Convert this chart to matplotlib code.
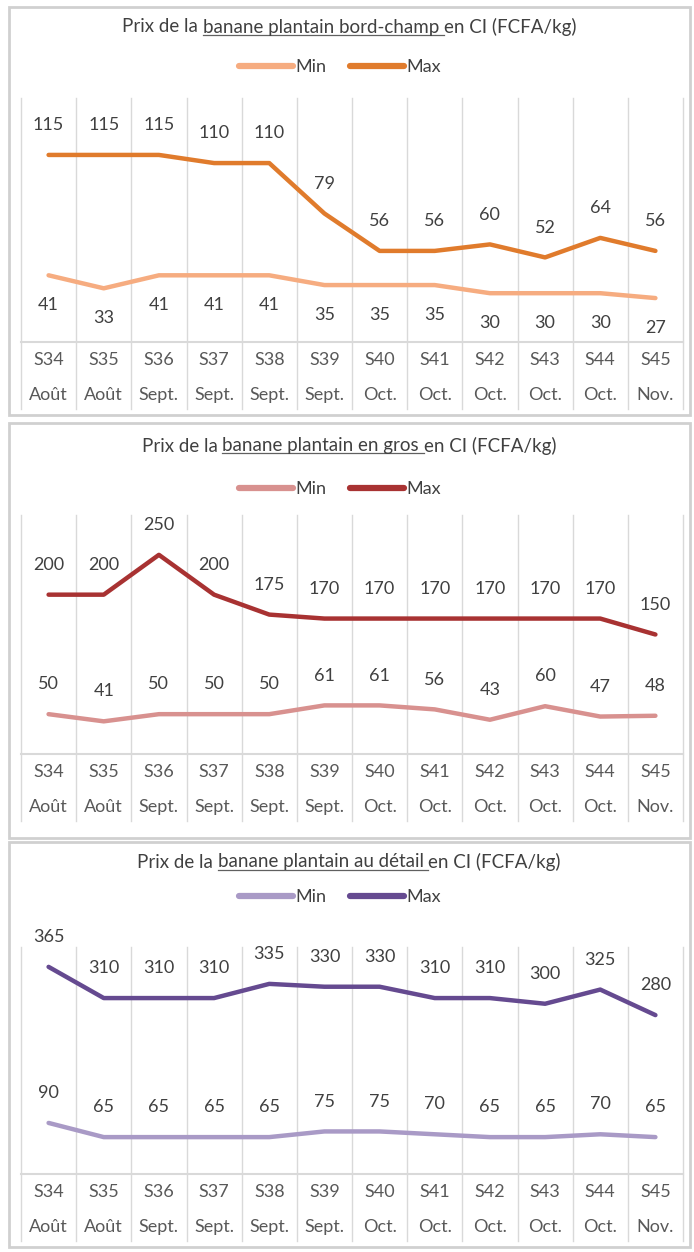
import matplotlib
matplotlib.use("Agg")
import matplotlib.pyplot as plt
from matplotlib.patches import Rectangle
from matplotlib.lines import Line2D

plt.rcParams['font.family'] = ['Lato', 'DejaVu Sans']

semaines = ["S34", "S35", "S36", "S37", "S38", "S39", "S40", "S41", "S42", "S43", "S44", "S45"]
mois = ["Août", "Août", "Sept.", "Sept.", "Sept.", "Sept.", "Oct.", "Oct.", "Oct.", "Oct.", "Oct.", "Nov."]

champ_min = [41, 33, 41, 41, 41, 35, 35, 35, 30, 30, 30, 27]
champ_max = [115, 115, 115, 110, 110, 79, 56, 56, 60, 52, 64, 56]
gros_min = [50, 41, 50, 50, 50, 61, 61, 56, 43, 60, 47, 48]
gros_max = [200, 200, 250, 200, 175, 170, 170, 170, 170, 170, 170, 150]
detail_min = [90, 65, 65, 65, 65, 75, 75, 70, 65, 65, 70, 65]
detail_max = [365, 310, 310, 310, 335, 330, 330, 310, 310, 300, 325, 280]

W, H = 694, 1252
fig = plt.figure(figsize=(W / 100, H / 100), dpi=100)
renderer = fig.canvas.get_renderer()

GRID = "#D9D9D9"
TXT = "#404040"
LBL = "#595959"


def fx(px):
    return px / W


def fy(py):
    return 1 - py / H


def titre(y_px, avant, souligne, apres):
    pieces = [avant, souligne, apres]
    texts = [fig.text(0, fy(y_px), p, fontsize=13.5, color=TXT, ha="left", va="center") for p in pieces]
    widths = [t.get_window_extent(renderer).width for t in texts]
    x_start = (W - sum(widths)) / 2 + 2
    x = x_start
    for t, w in zip(texts, widths):
        t.set_x(fx(x))
        x += w
    # souligner la partie du milieu
    x0 = x_start + widths[0]
    bb = texts[1].get_window_extent(renderer)
    yl = bb.y0 + 1
    fig.add_artist(Line2D([fx(x0), fx(x0 + widths[1])], [yl / H, yl / H], color="#606060", lw=0.9))


def panneau(box, axbox, ymax, mins, maxs, c_min, c_max, titres, y_titre, y_leg, min_below):
    l, t, r, b = box
    fig.add_artist(Rectangle((fx(l), fy(b)), fx(r - l), (b - t) / H, fill=False,
                             edgecolor="#D0D0D0", lw=2, transform=fig.transFigure))
    al, at, ar, ab = axbox
    ax = fig.add_axes([fx(al), fy(ab), fx(ar - al), (ab - at) / H])
    ax.set_xlim(-0.5, 11.5)
    ax.set_ylim(0, ymax)
    ax.axis("off")
    hpx = ab - at
    sep = -67 / hpx
    for xb in [i - 0.5 for i in range(13)]:
        ax.plot([xb, xb], [sep, 1], transform=ax.get_xaxis_transform(), color=GRID, lw=1, clip_on=False)
    ax.plot([-0.5, 11.5], [0, 0], color=GRID, lw=1.5, clip_on=False)

    x = list(range(len(semaines)))
    ax.plot(x, mins, color=c_min, lw=3.2, solid_capstyle="round", solid_joinstyle="round", label="Min")
    ax.plot(x, maxs, color=c_max, lw=3.2, solid_capstyle="round", solid_joinstyle="round", label="Max")

    for i in x:
        ax.annotate(str(maxs[i]), (i, maxs[i]), xytext=(0, 21.5), textcoords="offset points",
                    ha="center", va="center", fontsize=13, color=TXT, annotation_clip=False)
        dy = -21.5 if min_below else 21.5
        ax.annotate(str(mins[i]), (i, mins[i]), xytext=(0, dy), textcoords="offset points",
                    ha="center", va="center", fontsize=13, color=TXT, annotation_clip=False)
        ax.annotate(semaines[i], (i, 0), xytext=(0, -13), textcoords="offset points",
                    ha="center", va="center", fontsize=13, color=LBL, annotation_clip=False)
        ax.annotate(mois[i], (i, 0), xytext=(0, -38), textcoords="offset points",
                    ha="center", va="center", fontsize=13, color=LBL, annotation_clip=False)

    titre(y_titre, *titres)
    handles = [Line2D([], [], color=c_min, lw=4.5, solid_capstyle="round"),
               Line2D([], [], color=c_max, lw=4.5, solid_capstyle="round")]
    fig.legend(handles, ["Min", "Max"], loc="center", bbox_to_anchor=(fx(340), fy(y_leg)),
               ncol=2, frameon=False, fontsize=13, handlelength=3.0, handletextpad=0.15,
               columnspacing=1.3, labelcolor=TXT)
    return ax


panneau((9, 7, 690, 415), (21, 98, 683, 342), 150, champ_min, champ_max,
        "#F6AC80", "#E07B2C",
        ("Prix de la ", "banane plantain bord-champ ", "en CI (FCFA/kg)"), 27, 67, True)
panneau((9, 423, 690, 838), (21, 515, 683, 754), 300, gros_min, gros_max,
        "#D8918F", "#A83232",
        ("Prix de la ", "banane plantain en gros ", "en CI (FCFA/kg)"), 446, 489, False)
panneau((9, 842, 690, 1247), (21, 947, 683, 1174), 400, detail_min, detail_max,
        "#A99AC6", "#654A90",
        ("Prix de la ", "banane plantain au détail ", "en CI (FCFA/kg)"), 862, 897, False)

fig.savefig("out.png", dpi=100, facecolor="white")
